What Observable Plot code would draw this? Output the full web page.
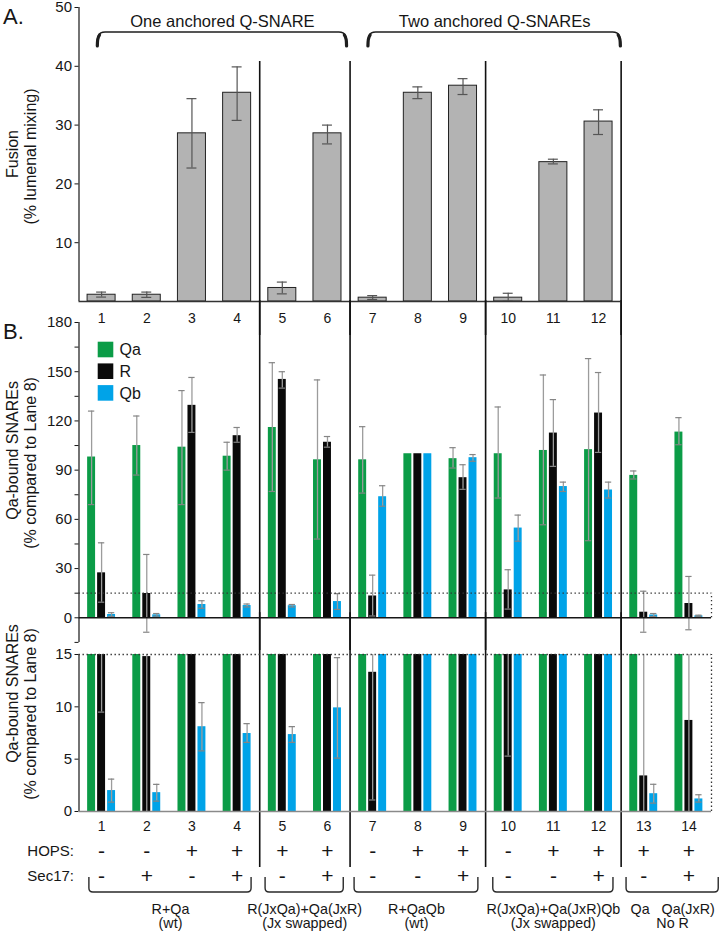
<!DOCTYPE html>
<html><head><meta charset="utf-8">
<script src="https://cdn.jsdelivr.net/npm/d3@7"></script>
<script src="https://cdn.jsdelivr.net/npm/@observablehq/plot@0.6"></script>
<style>
body{margin:0;background:#fff;}
#fig{position:relative;width:719px;height:935px;overflow:hidden;background:#fff;}
#fig svg{position:absolute;left:0;}
</style></head><body><div id="fig"></div>
<script>
// ---------------- data ----------------
const lanes = d3.range(1, 15);
const fusionLanes = d3.range(1, 13);
const fusion   = [1.15, 1.15, 28.6, 35.5, 2.3, 28.6, 0.65, 35.5, 36.7, 0.65, 23.7, 30.6];
const fusionLo = [0.75, 0.7, 22.7, 30.8, 1.3, 26.8, 0.35, 34.5, 35.2, 0.05, 23.4, 28.4];
const fusionHi = [1.6, 1.6, 34.5, 39.9, 3.3, 30.0, 1.0, 36.5, 37.9, 1.4, 24.2, 32.6];

const series = ["Qa", "R", "Qb"];
const qa   = [98, 105, 104, 98.5, 116, 96.3, 96.3, 100, 97, 100, 102, 102.5, 86.8, 113.2];
const qaLo = [69, 87, 69, 90, 77, 48, 76, null, 91.3, 73, 56.7, 47, 84.6, 105.5];
const qaHi = [126, 123, 138.5, 107, 155.5, 145, 116.5, null, 103.7, 128.5, 148, 158, 89.5, 122];
const rr   = [27.4, 14.8, 129.5, 111, 145.3, 107, 13.3, 100, 85.4, 17, 112.6, 124.8, 3.4, 8.7];
const rLo  = [9.5, -8.8, 113, 107, 140, 104, 1.1, null, 78.3, 5.3, 92.3, 100.8, -8.8, -7.3];
const rHi  = [45.7, 38.6, 146.5, 116, 150, 110.5, 26, null, 93.3, 29.3, 133, 149.5, 16.2, 25.2];
const qb   = [2.0, 1.8, 8.1, 7.45, 7.35, 9.9, 73.8, 100, 97.6, 54.7, 80, 77.9, 1.7, 1.2];
const qbLo = [0.9, 1.0, 5.8, 6.6, 6.6, 5.1, 68, null, 95.4, 46.7, 77, 73, 0.8, 0.9];
const qbHi = [3.1, 2.6, 10.4, 8.4, 8.1, 14.7, 80.5, null, 99.5, 62.6, 82.7, 82.7, 2.6, 1.6];

const hops  = ["-", "-", "+", "+", "+", "+", "-", "+", "+", "-", "+", "+", "+", "+"];
const sec17 = ["-", "+", "-", "+", "-", "+", "-", "-", "+", "-", "-", "+", "-", "+"];

const dividersAfter = [4, 6, 9, 12];
const topGroupLabels = ["One anchored Q-SNARE", "Two anchored Q-SNAREs"];
const topGroupLanes = [[1, 6], [7, 12]];
const bottomGroupLabels = ["R+Qa\n(wt)", "R(JxQa)+Qa(JxR)\n(Jx swapped)", "R+QaQb\n(wt)",
  "R(JxQa)+Qa(JxR)Qb\n(Jx swapped)", "Qa\u00a0\u00a0\u00a0Qa(JxR)\nNo R"];
const bottomGroupLanes = [[1, 4], [5, 6], [7, 9], [10, 12], [13, 14]];

// ---------------- styling / layout ----------------
const seriesColors = ["#0b9c47", "#0a0a0a", "#00a3e8"];
const seriesOffset = {Qa: -0.221, R: 0, Qb: 0.221};
const barHalfB = 0.088;
const topBracePad = [[0.09, 0.44], [0.1, 0.5]];
const bottomBracePad = [[0.27, 0.32], [0.37, 0.36], [0.4, 0.34], [0.33, 0.33], [0.38, 0.66]];
const FONT = '"Liberation Sans", Arial, Helvetica, sans-serif';
const W = 719;

const fusionRows = fusionLanes.map((lane, i) => ({lane, value: fusion[i], lo: fusionLo[i], hi: fusionHi[i]}));
const vals = [qa, rr, qb], los = [qaLo, rLo, qbLo], his = [qaHi, rHi, qbHi];
const rows = series.flatMap((s, k) => lanes.map((lane, i) => ({lane, series: s, value: vals[k][i], lo: los[k][i], hi: his[k][i]})));
const errRows = rows.filter(d => d.lo != null);
const topGroups = topGroupLabels.map((label, i) => ({label, x0: topGroupLanes[i][0] - topBracePad[i][0], x1: topGroupLanes[i][1] + topBracePad[i][1]}));
const bottomGroups = bottomGroupLabels.map((label, i) => ({label, x0: bottomGroupLanes[i][0] - bottomBracePad[i][0], x1: bottomGroupLanes[i][1] + bottomBracePad[i][1]}));

const xMin = d3.min(lanes) - 0.5, xMax = d3.max(lanes) + 0.5;
const fusionXMax = d3.max(fusionLanes) + 0.5;
const common = {
  width: W, marginLeft: 78.5, marginRight: 8,
  x: {domain: [xMin, xMax], axis: null},
  style: {background: "transparent", fontFamily: FONT, fontSize: "15px", color: "#161616"}
};
const color = {domain: series, range: seriesColors};
const ink = "#161616";

function yTitle(text, dx, dy) {
  return Plot.text([text], {text: d => d, frameAnchor: "left", rotate: -90, dx, dy, fontSize: 16, textAnchor: "middle", lineAnchor: "middle"});
}
function panelLabel(text) {
  return Plot.text([text], {text: d => d, frameAnchor: "top-left", dx: -76, dy: 1, textAnchor: "start", lineAnchor: "top", fontSize: 22});
}
function bottomText(data, opts) {
  return Plot.text(data, {frameAnchor: "bottom", lineAnchor: "middle", textAnchor: "middle", ...opts});
}

// ---------------- Panel A ----------------
const yMaxA = 50;
const dividerTopA = 40.8;
const plotA = Plot.plot({
  ...common, height: 335, marginTop: 7, marginBottom: 34,
  y: {domain: [0, yMaxA], label: null},
  marks: [
    Plot.ruleX([xMin], {x: d => d, y1: () => 0, y2: () => yMaxA, stroke: ink, strokeWidth: 1.2}),
    Plot.axisY({ticks: [10, 20, 30, 40, 50], tickSize: 4, tickPadding: 3, fontSize: 15}),
    Plot.ruleX(dividersAfter, {x: d => d + 0.5, y1: () => dividerTopA, y2: () => -12, stroke: "#111", strokeWidth: 1.6}),
    Plot.rectY(fusionRows, {x1: d => d.lane - 0.31, x2: d => d.lane + 0.31, y: "value", fill: "#b3b3b3", stroke: "#222", strokeWidth: 1}),
    Plot.ruleX(fusionRows, {x: "lane", y1: "lo", y2: "hi", stroke: "#555", strokeWidth: 1.2}),
    Plot.ruleY(fusionRows, {y: "lo", x1: d => d.lane - 0.11, x2: d => d.lane + 0.11, stroke: "#555", strokeWidth: 1.2}),
    Plot.ruleY(fusionRows, {y: "hi", x1: d => d.lane - 0.11, x2: d => d.lane + 0.11, stroke: "#555", strokeWidth: 1.2}),
    Plot.ruleY([0], {y: d => d, x1: () => xMin, x2: () => fusionXMax, stroke: "#333", strokeWidth: 1.3}),
    bottomText(fusionLanes, {x: d => d, text: d => String(d), dy: 17, fontSize: 14}),
    Plot.text(topGroups, {x: d => (d.x0 + d.x1) / 2, text: "label", frameAnchor: "top", lineAnchor: "middle", dy: 14, fontSize: 16.5}),
    yTitle("Fusion", -66.5, -0.5),
    yTitle("(% lumenal mixing)", -48.5, 2),
    panelLabel("A.")
  ]
});

// ---------------- Panel B ----------------
const yDomB = [-15, 180];
const plotB = Plot.plot({
  ...common, height: 350, marginTop: 22, marginBottom: 8.1,
  y: {domain: yDomB, label: null},
  color,
  marks: [
    Plot.ruleX([xMin], {x: d => d, y1: () => yDomB[0], y2: () => yDomB[1], stroke: ink, strokeWidth: 1.2}),
    Plot.axisY({ticks: d3.range(-15, 181, 15), tickFormat: d => (d >= 0 && d % 30 === 0 ? String(d) : ""), tickSize: 4, tickPadding: 3, fontSize: 15}),
    Plot.ruleX(dividersAfter, {x: d => d + 0.5, y1: () => 220, y2: () => -40, stroke: "#111", strokeWidth: 1.6}),
    Plot.rectY(rows, {x1: d => d.lane + seriesOffset[d.series] - barHalfB, x2: d => d.lane + seriesOffset[d.series] + barHalfB, y: "value", fill: "series"}),
    Plot.ruleX(errRows, {x: d => d.lane + seriesOffset[d.series], y1: "lo", y2: "hi", stroke: "#9c9c9c", strokeWidth: 1.3}),
    Plot.ruleY(errRows, {y: "lo", x1: d => d.lane + seriesOffset[d.series] - 0.07, x2: d => d.lane + seriesOffset[d.series] + 0.07, stroke: "#858585", strokeWidth: 1.2}),
    Plot.ruleY(errRows, {y: "hi", x1: d => d.lane + seriesOffset[d.series] - 0.07, x2: d => d.lane + seriesOffset[d.series] + 0.07, stroke: "#858585", strokeWidth: 1.2}),
    Plot.ruleY([15], {y: d => d, x1: () => xMin, x2: () => xMax, stroke: "#333", strokeWidth: 1.3, strokeDasharray: "1.4 2.6"}),
    Plot.ruleX([xMax], {x: d => d, y1: () => 0, y2: () => 15, stroke: "#333", strokeWidth: 1.3, strokeDasharray: "1.4 2.6"}),
    Plot.ruleY([0], {y: d => d, x1: () => xMin, x2: () => xMax, stroke: ink, strokeWidth: 1.4}),
    ...series.map((s, i) => Plot.dot([s], {frameAnchor: "top-left", dx: 26.5, dy: 27 + i * 21.7, symbol: "square", r: 8.8, fill: seriesColors[i], stroke: "none"})),
    ...series.map((s, i) => Plot.text([s], {text: d => d, frameAnchor: "top-left", dx: 40.5, dy: 27.5 + i * 21.7, textAnchor: "start", lineAnchor: "middle", fontSize: 16})),
    yTitle("Qa-bound SNAREs", -66.5, -32),
    yTitle("(% compared to Lane 8)", -48.5, -19.5),
    panelLabel("B.")
  ]
});

// ---------------- Panel C ----------------
const yDomC = [0, 15];
const dividerBottomC = -5.35;
const plotC = Plot.plot({
  ...common, height: 335, marginTop: 54, marginBottom: 124,
  y: {domain: yDomC, label: null},
  color,
  marks: [
    Plot.ruleX([xMin], {x: d => d, y1: () => yDomC[0], y2: () => yDomC[1], stroke: ink, strokeWidth: 1.2}),
    Plot.axisY({ticks: [0, 5, 10, 15], tickSize: 4, tickPadding: 3, fontSize: 15}),
    Plot.ruleX(dividersAfter, {x: d => d + 0.5, y1: () => 19, y2: () => dividerBottomC, stroke: "#111", strokeWidth: 1.6}),
    Plot.rectY(rows, {x1: d => d.lane + seriesOffset[d.series] - barHalfB, x2: d => d.lane + seriesOffset[d.series] + barHalfB, y: "value", fill: "series", clip: true}),
    Plot.ruleX(errRows, {x: d => d.lane + seriesOffset[d.series], y1: "lo", y2: "hi", stroke: "#9c9c9c", strokeWidth: 1.3, clip: true}),
    Plot.ruleY(errRows, {y: "lo", x1: d => d.lane + seriesOffset[d.series] - 0.07, x2: d => d.lane + seriesOffset[d.series] + 0.07, stroke: "#858585", strokeWidth: 1.2, clip: true}),
    Plot.ruleY(errRows, {y: "hi", x1: d => d.lane + seriesOffset[d.series] - 0.07, x2: d => d.lane + seriesOffset[d.series] + 0.07, stroke: "#858585", strokeWidth: 1.2, clip: true}),
    Plot.ruleY([15], {y: d => d, x1: () => xMin, x2: () => xMax, stroke: "#333", strokeWidth: 1.3, strokeDasharray: "1.4 2.6"}),
    Plot.ruleX([xMax], {x: d => d, y1: () => 0, y2: () => 15, stroke: "#333", strokeWidth: 1.3, strokeDasharray: "1.4 2.6"}),
    Plot.ruleY([0], {y: d => d, x1: () => xMin, x2: () => xMax, stroke: "#8a8a8a", strokeWidth: 1.4}),
    bottomText(lanes, {x: d => d, text: d => String(d), dy: 15, fontSize: 14}),
    bottomText(lanes, {x: d => d, text: (d, i) => hops[i], dy: 39.5, fontSize: 21}),
    bottomText(lanes, {x: d => d, text: (d, i) => sec17[i], dy: 64.5, fontSize: 21}),
    bottomText(["HOPS:"], {x: () => xMin, text: d => d, dy: 39.5, dx: -5, textAnchor: "end", fontSize: 15}),
    bottomText(["Sec17:"], {x: () => xMin, text: d => d, dy: 64.5, dx: -5, textAnchor: "end", fontSize: 15}),
    bottomText(bottomGroups, {x: d => (d.x0 + d.x1) / 2, text: "label", dy: 105, fontSize: 14.3, lineHeight: 1.02}),
    yTitle("Qa-bound SNAREs", -66.5, -39.5),
    yTitle("(% compared to Lane 8)", -48.5, -19)
  ]
});

// ---------------- assemble ----------------
const fig = document.getElementById("fig");
[[plotA, 0], [plotB, 300], [plotC, 600]].forEach(([p, top]) => { p.style.top = top + "px"; fig.appendChild(p); });

function xScaleOf(p) {
  const s = p.scale("x");
  return s.apply ? (v => s.apply(v)) : d3.scaleLinear(s.domain, s.range);
}
// braces (annotation shapes placed with the plot's x scale)
{
  const x = xScaleOf(plotA);
  const yT = 7 + 25, yE = 7 + 40;
  const g = d3.select(plotA).append("g").attr("fill", "none").attr("stroke", "#1e1e1e");
  topGroups.forEach(d => {
    const a = x(d.x0), b = x(d.x1);
    g.append("path").attr("stroke-width", 1.5)
      .attr("d", `M${a},${yE} C${a},${yT + 5} ${a + 1},${yT} ${a + 8},${yT} L${b - 8},${yT} C${b - 1},${yT} ${b},${yT + 5} ${b},${yE}`);
    g.append("path").attr("stroke-width", 3.2).attr("stroke-linecap", "round")
      .attr("d", `M${a + 0.3},${yE - 1} C${a + 0.3},${yT + 8} ${a + 0.8},${yT + 5} ${a + 2.5},${yT + 3}`);
    g.append("path").attr("stroke-width", 3.2).attr("stroke-linecap", "round")
      .attr("d", `M${b - 0.3},${yE - 1} C${b - 0.3},${yT + 8} ${b - 0.8},${yT + 5} ${b - 2.5},${yT + 3}`);
  });
}
{
  const x = xScaleOf(plotC);
  const base = 335 - 124;
  const yT = base + 66, yB = base + 81, r = 4;
  const g = d3.select(plotC).append("g").attr("fill", "none").attr("stroke", "#2a2a2a").attr("stroke-width", 1.4);
  bottomGroups.forEach(d => {
    const a = x(d.x0), b = x(d.x1);
    g.append("path")
      .attr("d", `M${a},${yT} L${a},${yB - r} Q${a},${yB} ${a + r},${yB} L${b - r},${yB} Q${b},${yB} ${b},${yB - r} L${b},${yT}`);
  });
}
</script></body></html>
